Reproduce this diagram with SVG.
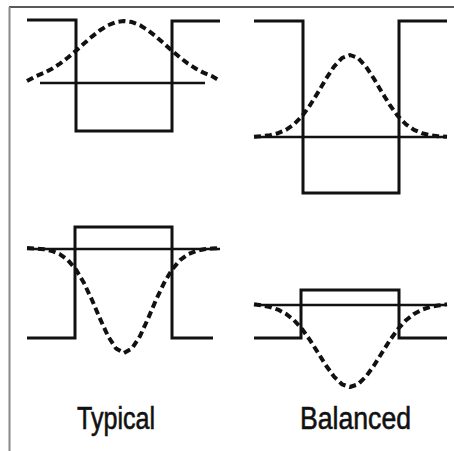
<svg xmlns="http://www.w3.org/2000/svg" width="454" height="451" viewBox="0 0 454 451">
<style>
.sq{fill:none;stroke:#111;stroke-width:3;stroke-linejoin:miter}
.base{fill:none;stroke:#111;stroke-width:2.3}
.gauss{fill:none;stroke:#111;stroke-width:4;stroke-dasharray:7 4;stroke-linejoin:round}
.lbl{font-family:"Liberation Sans Narrow","Liberation Sans",Arial,sans-serif;font-size:31px;fill:#111;stroke:#111;stroke-width:0.6;text-anchor:middle}
</style>
<rect x="0" y="0" width="454" height="451" fill="#fff"/>
<g id="frame">
<line x1="9" y1="7" x2="454" y2="7" stroke="#222" stroke-width="1.6"/>
<line x1="9.5" y1="7" x2="9.5" y2="451" stroke="#888" stroke-width="2"/>
</g>
<g id="typical-top">
<path class="sq" d="M27 20 H76 V131 H172 V21 H220"/>
<line class="base" x1="40" y1="83" x2="205" y2="83"/>
<polyline class="gauss" points="27,81 36,76.1 44,72.9 52,68.7 60,63.6 68,57.5 76,50.7 84,43.6 92,36.6 100,30.3 108,25.3 116,22.1 124,21 132,22.1 140,25.3 148,30.3 156,36.6 164,43.6 172,50.7 180,57.5 188,63.6 196,68.7 204,72.9 212,76.1 220,81"/>
</g>
<g id="balanced-top">
<path class="sq" d="M254 21 H303 V193 H399 V21 H447"/>
<line class="base" x1="254" y1="137" x2="447" y2="137"/>
<polyline class="gauss" points="254,136.8 262,136.2 270,135.2 278,133.2 286,129.8 294,124.3 302,116.2 310,105.3 318,92.4 326,78.8 334,66.6 342,58 350,55 358,58 366,66.6 374,78.8 382,92.4 390,105.3 398,116.2 406,124.3 414,129.8 422,133.2 430,135.2 438,136.2 447,136.8"/>
</g>
<g id="typical-bottom">
<path class="sq" d="M27 338 H75 V227 H172 V338 H213"/>
<line class="base" x1="27" y1="249" x2="220" y2="249"/>
<polyline class="gauss" points="27,248 36,248.5 44,249.3 52,251 60,254.3 68,260.2 76,269.6 84,283.1 92,300 100,318.7 108,336.1 116,348.5 124,353 132,348.5 140,336.1 148,318.7 156,300 164,283.1 172,269.6 180,260.2 188,254.3 196,251 204,249.3 212,248.5 220,248"/>
</g>
<g id="balanced-bottom">
<path class="sq" d="M254 338 H301 V290 H399 V338 H447"/>
<line class="base" x1="254" y1="305" x2="447" y2="305"/>
<polyline class="gauss" points="254,304.3 262,305.5 270,307 278,309.6 286,313.9 294,320.2 302,329 310,340.1 318,352.7 326,365.5 334,376.6 342,384.3 350,387 358,384.3 366,376.6 374,365.5 382,352.7 390,340.1 398,329 406,320.2 414,313.9 422,309.6 430,307 438,305.5 447,304.3"/>
</g>
<g id="labels">
<text class="lbl" x="116" y="429" textLength="78" lengthAdjust="spacingAndGlyphs">Typical</text>
<text class="lbl" x="355.5" y="429" textLength="111" lengthAdjust="spacingAndGlyphs">Balanced</text>
</g>
</svg>
